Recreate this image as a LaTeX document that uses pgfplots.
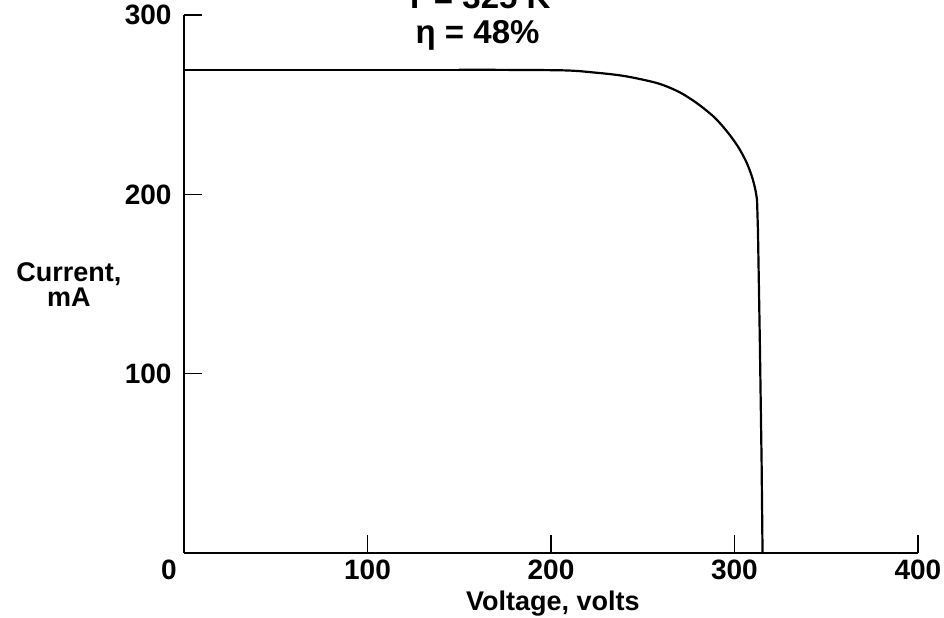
\documentclass[border=0pt]{standalone}
\usepackage{pgfplots}
\pgfplotsset{compat=1.18}
\usepackage{fontspec}
\setmainfont{Liberation Sans}
\begin{document}
\begin{tikzpicture}
\begin{axis}[
  scale only axis,
  width=734pt, height=538pt,
  xmin=0, xmax=400, ymin=0, ymax=300,
  axis x line=bottom, axis y line=left,
  axis line style={-, line width=1.8pt},
  xtick={0,100,200,300,400},
  xticklabels={\hspace*{-30pt}0,100,200,300,400},
  ytick={100,200,300},
  tick align=inside,
  major tick length=18pt,
  tick style={line width=1.6pt, black},
  every tick label/.append style={font=\fontsize{28}{30}\selectfont\bfseries},
  /pgf/number format/assume math mode=true,
  xticklabel style={yshift=-3pt},
  yticklabel style={xshift=-9pt},
  clip=false,
]
\addplot[black, line width=2.2pt, line join=round] coordinates {
 (0,0) (0,269.5) (150,269.5)
};
\addplot[black, line width=2.2pt, smooth, tension=0.5, line cap=round] coordinates {
 (150,269.5) (205,269.2) (223,268) (240,266) (258,262) (270,257) (280,250.5)
 (289,243) (296,235) (302,226.5) (306.5,218) (309.5,210) (311.3,203) (312.3,197)
};
\addplot[black, line width=2.2pt, line cap=round] coordinates {
 (312.3,197) (312.8,180) (313.8,120) (314.8,50) (315.3,0)
};
\node[anchor=base, font=\fontsize{33}{35}\selectfont\bfseries] at (axis cs:160,303.4) {T = 325 K};
\node[anchor=base, font=\fontsize{33}{35}\selectfont\bfseries] at (axis cs:160,283.9) {η = 48\%};
\node[align=center, font=\fontsize{27}{25}\selectfont\bfseries] at (axis cs:-62.7,149.7) {Current,\\mA};
\node[anchor=base, font=\fontsize{27}{30}\selectfont\bfseries] at (axis cs:201,-31.8) {Voltage, volts};
\coordinate (bbll) at (axis cs:-100.3,-36.2);
\coordinate (bbur) at (axis cs:414.2,308.4);
\end{axis}
\pgfresetboundingbox
\useasboundingbox (bbll) rectangle (bbur);
\end{tikzpicture}
\end{document}
